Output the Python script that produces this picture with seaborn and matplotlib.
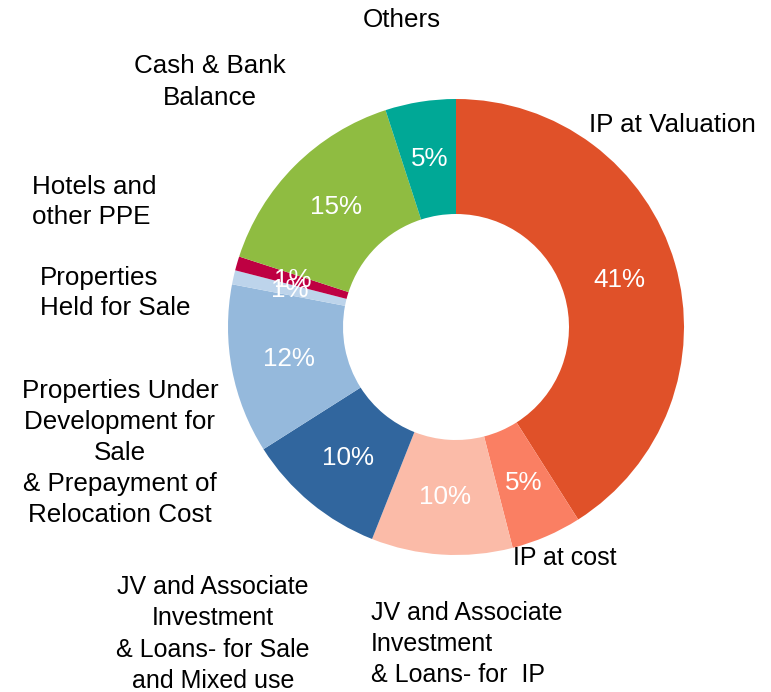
import matplotlib
matplotlib.use("Agg")
import matplotlib.pyplot as plt
import seaborn as sns
from matplotlib import font_manager

# ---- data ----
categories = ["IP at Valuation", "IP at cost", "JV and Associate Investment & Loans- for IP",
              "JV and Associate Investment & Loans- for Sale and Mixed use",
              "Properties Under Development for Sale & Prepayment of Relocation Cost",
              "Properties Held for Sale", "Hotels and other PPE", "Cash & Bank Balance", "Others"]
values = [41, 5, 10, 10, 12, 1, 1, 15, 5]
colors = ["#E05129", "#FA7F63", "#FBBBA8", "#31669E", "#95B9DC", "#BDD4EB", "#BE0042", "#8FBC41", "#00A896"]

display_labels = ["IP at Valuation", "IP at cost", "JV and Associate\nInvestment\n& Loans- for  IP",
                  "JV and Associate\nInvestment\n& Loans- for Sale\nand Mixed use",
                  "Properties Under\nDevelopment for\nSale\n& Prepayment of\nRelocation Cost",
                  "Properties\nHeld for Sale", "Hotels and\nother PPE", "Cash & Bank\nBalance", "Others"]

sns.set_theme(style="white")
plt.rcParams['font.family'] = ['Liberation Sans', 'DejaVu Sans']

W, H = 771, 692
fig = plt.figure(figsize=(W / 100, H / 100), dpi=100)
ax = fig.add_axes([0, 0, 1, 1])

cx, cy = 456, H - 327
r_out, r_in = 228, 113
fs = 18.7

wedges, texts, autotexts = ax.pie(
    values, colors=colors, startangle=90, counterclock=False,
    radius=r_out, center=(cx, cy),
    wedgeprops=dict(width=r_out - r_in, linewidth=0),
    autopct='%.0f%%', pctdistance=170 / r_out,
    textprops=dict(color="white", fontsize=fs))

ax.set_xlim(0, W)
ax.set_ylim(0, H)
ax.set_aspect('equal')
ax.set_axis_off()

narrow_available = any('Narrow' in f.name for f in font_manager.fontManager.ttflist)
narrow = ['Liberation Sans Narrow', 'Liberation Sans'] if narrow_available else ['Liberation Sans']
bfs = 18.0 if narrow_available else 15.5

# label layout: (x, y_pix, ha, family, size, linespacing)
layout = {
    "IP at Valuation": (589, 125, "left", ['Liberation Sans'], fs, 1.35),
    "IP at cost": (513, 558, "left", narrow, bfs, 1.35),
    "JV and Associate Investment & Loans- for IP": (371, 644, "left", narrow, bfs, 1.38),
    "JV and Associate Investment & Loans- for Sale and Mixed use": (213, 634, "center", narrow, bfs, 1.38),
    "Properties Under Development for Sale & Prepayment of Relocation Cost": (120, 453, "center", ['Liberation Sans'], fs, 1.37),
    "Properties Held for Sale": (40, 293, "left", ['Liberation Sans'], fs, 1.33),
    "Hotels and other PPE": (32, 202, "left", ['Liberation Sans'], fs, 1.35),
    "Cash & Bank Balance": (210, 82, "center", ['Liberation Sans'], fs, 1.37),
    "Others": (402, 20, "center", ['Liberation Sans'], fs, 1.35),
}
for cat, lab in zip(categories, display_labels):
    x, yp, ha, fam, size, ls = layout[cat]
    ax.text(x, H - yp, lab, ha=ha, va="center", multialignment=ha,
            fontsize=size, family=fam, color="black", linespacing=ls)

fig.savefig("out.png", dpi=100)
